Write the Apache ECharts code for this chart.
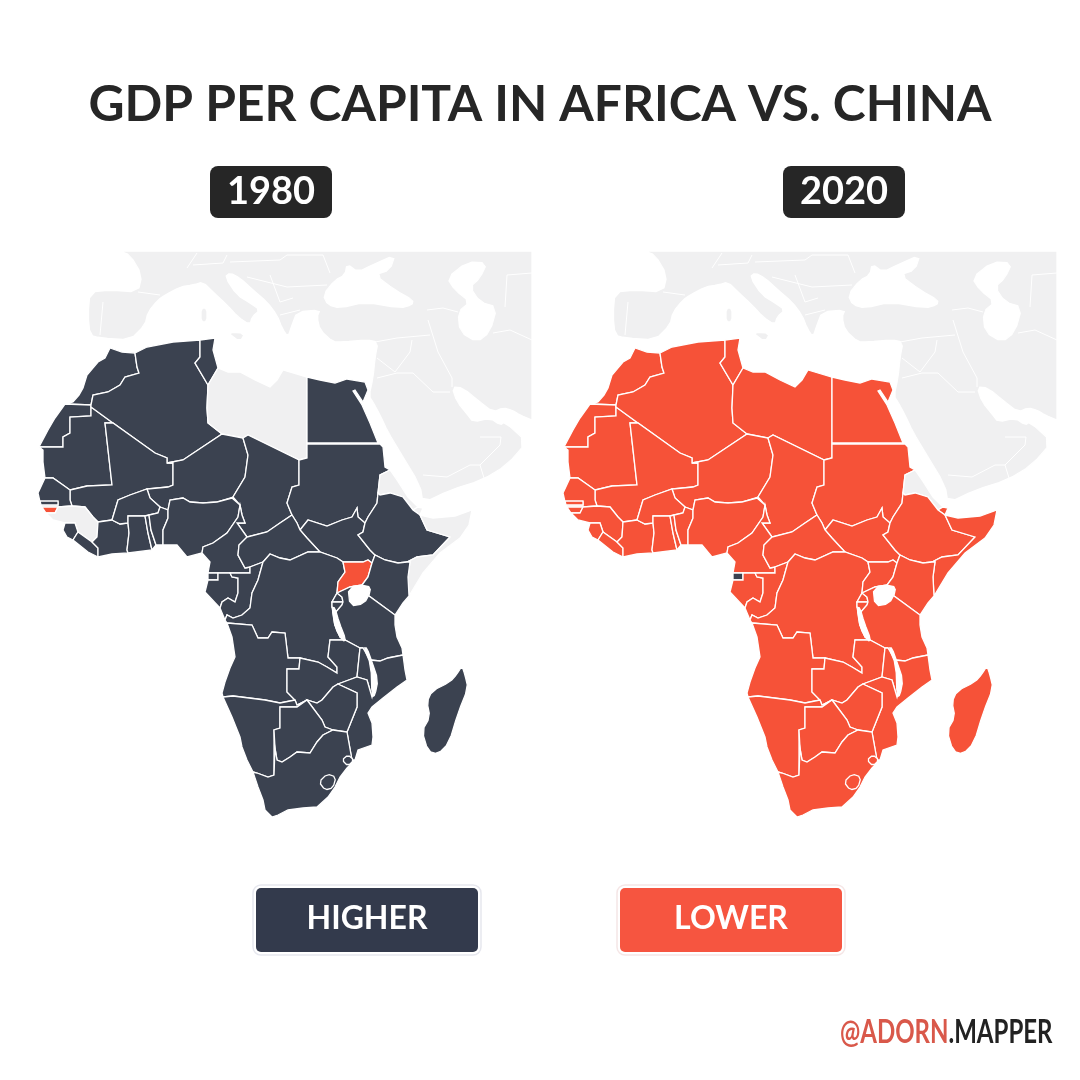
<!DOCTYPE html>
<html>
<head>
<meta charset="utf-8">
<title>GDP per capita in Africa vs. China</title>
<style>
    html, body { margin: 0; padding: 0; background: #fff; }
    #main { width: 1080px; height: 1080px; }
</style>
<script src="https://cdn.jsdelivr.net/npm/echarts@6/dist/echarts.min.js"></script>
</head>
<body>
<div id="main"></div>
<script type="text/javascript">
// chart values: 1 = higher than China, 0 = lower, null = no data (same order as countries)
var countries = [
    'Morocco', 'Western Sahara', 'Mauritania', 'Algeria', 'Tunisia', 'Libya', 'Egypt', 'Mali', 'Niger', 'Chad',
    'Sudan', 'South Sudan', 'Eritrea', 'Djibouti', 'Ethiopia', 'Somalia', 'Senegal', 'Gambia', 'Guinea-Bissau', 'Guinea',
    'Sierra Leone', 'Liberia', 'Ivory Coast', 'Burkina Faso', 'Ghana', 'Togo', 'Benin', 'Nigeria', 'Cameroon', 'Central African Republic',
    'Equatorial Guinea', 'Gabon', 'Congo', 'DR Congo', 'Uganda', 'Kenya', 'Rwanda', 'Burundi', 'Tanzania', 'Angola',
    'Zambia', 'Malawi', 'Mozambique', 'Zimbabwe', 'Namibia', 'Botswana', 'South Africa', 'Lesotho', 'Eswatini', 'Madagascar'
];
var values1980 = [
    1, 1, 1, 1, 1, null, 1, 1, 1, 1,
    1, 1, null, null, 1, null, 1, 1, 0, null,
    1, 1, 1, 1, 1, 1, 1, 1, 1, 1,
    1, 1, 1, 1, 0, 1, 1, 1, 1, 1,
    1, 1, 1, 1, 1, 1, 1, 1, 1, 1
];
var values2020 = [
    0, 0, 0, 0, 0, 0, 0, 0, 0, 0,
    0, 0, null, 0, 0, 0, 0, 0, 0, 0,
    0, 0, 0, 0, 0, 0, 0, 0, 0, 0,
    1, 0, 0, 0, 0, 0, 0, 0, 0, 0,
    0, 0, 0, 0, 0, 0, 0, 0, 0, 0
];
var years = ['1980', '2020'];
var legendLabels = ['HIGHER', 'LOWER'];
var chartTitle = 'GDP PER CAPITA IN AFRICA VS. CHINA';

var DARK = '#3b4250', RED = '#f65238', GREY = '#f0f0f1';

// outlines, x right / y down on a 1080 square
var shapes = {
    'Morocco': [[110,348],[122,352],[135,353],[137,367],[139,373],[125,377],[120,385],[108,392],[93,395],[91,405],[65,404],[73,402],[79,395],[83,388],[87,375],[98,362],[105,358]],
    'Western Sahara': [[65,404],[91,405],[91,416],[70,417],[70,433],[63,437],[63,447],[39,447],[48,430],[55,418]],
    'Mauritania': [[39,447],[63,447],[63,437],[70,433],[70,417],[91,416],[91,407],[113,423],[105,423],[112,485],[87,486],[70,490],[63,485],[53,478],[45,478],[43,462],[43,450]],
    'Algeria': [[135,353],[147,347],[173,342],[200,340],[200,357],[195,363],[208,385],[207,408],[208,423],[222,434],[183,460],[167,463],[167,458],[155,453],[113,423],[91,407],[91,405],[93,395],[108,392],[120,385],[125,377],[139,373],[137,367]],
    'Tunisia': [[200,340],[215,338],[213,350],[218,368],[208,385],[195,363],[200,357]],
    'Libya': [[218,368],[228,372],[240,372],[255,380],[270,387],[277,380],[283,370],[293,373],[307,377],[307,458],[299,460],[248,435],[243,438],[222,434],[208,423],[207,408],[208,385]],
    'Egypt': [[307,377],[320,380],[335,383],[347,379],[365,382],[368,390],[363,402],[355,390],[353,391],[362,405],[370,423],[378,443],[307,443]],
    'Mali': [[105,423],[113,423],[155,453],[167,458],[167,463],[173,463],[173,485],[168,487],[147,489],[130,495],[118,500],[112,520],[98,522],[93,517],[85,507],[72,506],[70,500],[70,490],[87,486],[112,485]],
    'Niger': [[222,434],[243,438],[248,455],[245,477],[233,497],[232,498],[217,502],[203,503],[190,502],[183,498],[170,500],[168,510],[160,507],[150,498],[147,489],[168,487],[173,485],[173,463],[167,463],[183,460]],
    'Chad': [[243,438],[248,435],[299,460],[299,485],[292,487],[287,503],[292,515],[280,523],[267,532],[247,537],[237,523],[245,523],[242,515],[240,505],[233,497],[245,477],[248,455]],
    'Sudan': [[299,460],[307,458],[307,444],[380,444],[383,447],[385,467],[390,470],[380,475],[378,493],[377,503],[368,517],[365,523],[358,517],[357,508],[352,517],[342,520],[327,526],[308,520],[300,530],[297,523],[292,515],[287,503],[292,487],[299,485]],
    'South Sudan': [[300,530],[308,520],[327,526],[342,520],[352,517],[357,508],[358,517],[365,523],[363,532],[358,535],[370,550],[375,555],[372,563],[368,560],[363,562],[343,562],[337,558],[320,552],[307,538]],
    'Eritrea': [[390,470],[397,480],[408,497],[418,507],[413,510],[403,497],[390,493],[380,495],[378,493],[380,475]],
    'Djibouti': [[413,510],[418,507],[423,508],[420,515]],
    'Ethiopia': [[378,493],[380,495],[390,493],[403,497],[413,510],[420,515],[427,530],[450,537],[433,555],[417,557],[407,562],[398,563],[385,560],[375,555],[370,550],[358,535],[363,532],[365,523],[368,517],[377,503]],
    'Somalia': [[420,515],[433,518],[455,516],[472,510],[469,525],[460,538],[440,553],[423,573],[409,596],[408,577],[410,562],[407,562],[417,557],[433,555],[450,537],[427,530]],
    'Senegal': [[45,478],[53,478],[63,485],[70,490],[70,500],[72,506],[58,507],[42,507],[41,505],[58,505],[58,502],[40,502],[38,493]],
    'Gambia': [[40,501],[58,501],[58,505],[41,505]],
    'Guinea-Bissau': [[42,507],[58,507],[55,513],[46,513]],
    'Guinea': [[58,507],[72,506],[85,507],[93,517],[98,522],[97,537],[92,542],[85,537],[78,532],[75,523],[65,523],[53,520],[46,513],[55,513]],
    'Sierra Leone': [[65,523],[75,523],[78,532],[73,540],[67,537],[63,530]],
    'Liberia': [[78,532],[85,537],[92,542],[98,548],[98,557],[88,552],[73,540]],
    'Ivory Coast': [[98,522],[112,520],[120,524],[128,523],[129,533],[127,550],[128,553],[112,554],[98,557],[98,548],[92,542],[97,537]],
    'Burkina Faso': [[147,489],[150,498],[160,507],[158,513],[149,515],[145,516],[128,516],[128,523],[120,524],[112,520],[118,500],[130,495]],
    'Ghana': [[128,516],[145,516],[148,533],[152,550],[128,553],[127,550],[129,533],[128,523]],
    'Togo': [[145,516],[149,515],[151,530],[156,545],[152,550],[148,533]],
    'Benin': [[160,507],[168,510],[168,518],[163,530],[163,545],[156,545],[151,530],[149,515],[158,513]],
    'Nigeria': [[168,510],[170,500],[183,498],[190,502],[203,503],[217,502],[232,498],[240,505],[238,517],[227,533],[213,543],[203,547],[202,553],[187,557],[177,545],[163,545],[163,530],[168,518]],
    'Cameroon': [[240,505],[242,515],[245,523],[237,523],[247,537],[239,545],[238,555],[245,568],[250,567],[250,573],[230,573],[218,573],[208,573],[210,562],[202,553],[203,547],[213,543],[227,533],[238,517]],
    'Central African Republic': [[292,515],[297,523],[300,530],[307,538],[320,552],[308,552],[290,560],[280,558],[270,554],[263,562],[250,567],[245,568],[238,555],[239,545],[247,537],[267,532],[280,523]],
    'Equatorial Guinea': [[208,573],[218,573],[218,580],[208,580]],
    'Gabon': [[218,573],[230,573],[232,577],[238,578],[238,593],[235,602],[228,598],[222,602],[220,608],[205,592],[208,580],[218,580]],
    'Congo': [[230,573],[250,573],[250,567],[263,562],[258,580],[252,593],[250,608],[242,615],[233,618],[227,615],[225,620],[220,608],[222,602],[228,598],[235,602],[238,593],[238,578],[232,577]],
    'DR Congo': [[263,562],[270,554],[280,558],[290,560],[308,552],[320,552],[337,558],[343,562],[345,572],[338,582],[337,593],[332,602],[332,607],[335,625],[340,637],[345,640],[330,640],[328,657],[337,667],[337,673],[327,667],[318,662],[300,658],[288,658],[285,633],[272,632],[268,638],[258,638],[252,625],[227,623],[225,620],[227,615],[233,618],[242,615],[250,608],[252,593],[258,580]],
    'Uganda': [[343,562],[363,562],[368,560],[372,563],[368,577],[362,585],[350,587],[337,593],[338,582],[345,572]],
    'Kenya': [[372,563],[375,555],[385,560],[398,563],[407,562],[410,562],[408,577],[409,596],[410,597],[403,603],[395,615],[365,593],[362,585],[368,577]],
    'Rwanda': [[332,602],[337,593],[342,597],[343,602]],
    'Burundi': [[332,602],[343,602],[342,605],[335,613],[332,607]],
    'Tanzania': [[337,593],[350,587],[362,585],[365,593],[395,615],[395,625],[397,637],[402,648],[403,655],[388,658],[380,661],[370,660],[363,648],[360,648],[345,640],[340,637],[335,625],[335,613],[342,605],[343,602],[342,597]],
    'Angola': [[227,623],[252,625],[258,638],[268,638],[272,632],[285,633],[288,658],[300,658],[299,669],[287,669],[287,692],[295,700],[280,703],[265,700],[233,696],[223,697],[222,693],[225,682],[230,668],[235,657],[232,637]],
    'Zambia': [[300,658],[318,662],[327,667],[337,673],[337,667],[328,657],[330,640],[345,640],[360,648],[357,677],[338,684],[333,687],[322,700],[317,703],[307,700],[297,705],[295,700],[287,692],[287,669],[299,669]],
    'Malawi': [[363,648],[370,660],[375,683],[372,697],[367,680],[357,677],[360,648]],
    'Mozambique': [[370,660],[380,661],[388,658],[403,655],[405,670],[407,680],[397,687],[383,698],[372,707],[368,713],[372,723],[373,737],[372,745],[358,750],[355,760],[352,760],[347,732],[357,707],[357,693],[340,685],[338,684],[357,677],[367,680],[372,697],[375,683]],
    'Zimbabwe': [[340,685],[357,693],[357,707],[347,732],[333,730],[325,727],[322,720],[307,700],[317,703],[322,700],[333,687],[338,684]],
    'Namibia': [[223,697],[233,696],[265,700],[280,703],[295,700],[297,705],[307,700],[297,707],[280,707],[280,728],[274,730],[274,775],[268,777],[257,773],[253,772],[247,760],[242,747],[240,737],[232,717]],
    'Botswana': [[280,707],[297,707],[307,700],[322,720],[325,727],[333,730],[323,735],[317,742],[310,753],[297,752],[290,757],[282,762],[277,760],[275,748],[274,730],[280,728]],
    'South Africa': [[253,772],[257,773],[268,777],[274,775],[275,748],[277,760],[282,762],[290,757],[297,752],[310,753],[317,742],[323,735],[333,730],[347,732],[352,760],[352,763],[347,768],[340,777],[335,787],[328,797],[317,807],[303,808],[288,810],[278,815],[272,817],[265,810],[263,800],[258,787]]
};

// standalone pieces: nothing shares their edges, so they can be rounded off
var islands = {
    'Eurasia': [[120,251],[532,251],[532,420],[520,415],[512,410],[503,408],[493,412],[480,402],[463,388],[452,387],[457,402],[468,415],[473,422],[490,418],[500,425],[505,422],[527,442],[507,465],[482,480],[450,490],[423,503],[420,485],[400,452],[388,432],[380,415],[373,402],[369,396],[373,378],[375,358],[378,342],[367,340],[343,342],[333,342],[320,330],[317,317],[320,310],[297,312],[292,325],[288,337],[282,328],[277,315],[267,302],[253,290],[240,278],[230,273],[225,277],[237,295],[250,303],[260,310],[252,317],[250,325],[238,317],[227,305],[213,292],[203,282],[193,285],[180,287],[165,295],[158,300],[148,312],[145,325],[130,340],[100,338],[90,335],[88,315],[90,292],[110,290],[138,292],[142,275],[130,255]],
    'Sardinia': [[201,308],[207,308],[207,322],[201,322]],
    'Sicily': [[227,332],[245,333],[240,342]],
    'Lesotho': [[319,782],[327,774],[336,777],[333,788],[325,790]],
    'Eswatini': [[342,760],[348,755],[354,760],[348,766]],
    'Madagascar': [[462,666],[465,675],[468,688],[458,713],[449,743],[438,754],[428,751],[422,731],[430,717],[427,702],[432,691],[450,682],[457,674]],
    'Lake Victoria': [[348,587],[368,585],[371,591],[364,604],[350,606]],
    'Lake Tanganyika': [[332,607],[335,608],[339,622],[346,640],[343,641],[335,628]],
    'Lake Malawi': [[364,648],[367,648],[372,662],[378,680],[375,695],[372,697],[371,665]],
    'Black Sea': [[323,295],[335,280],[345,275],[347,264],[358,272],[372,265],[395,255],[390,270],[375,275],[395,290],[413,300],[412,305],[400,308],[365,302],[340,308],[328,305]],
    'Caspian Sea': [[447,278],[467,262],[487,263],[480,278],[470,287],[480,302],[497,307],[490,332],[477,342],[460,332],[458,312],[470,302],[455,290]]
};
var water = ['Lake Victoria', 'Lake Tanganyika', 'Lake Malawi', 'Black Sea', 'Caspian Sea'];

// white borders across the grey background land
var bgBorders = [
    [[375,342],[397,338],[430,335]],
    [[428,320],[438,352],[452,378],[452,387]],
    [[377,378],[397,373],[413,373],[433,392],[450,392]],
    [[395,372],[410,352],[412,340]],
    [[377,358],[395,372]],
    [[532,340],[510,330],[493,333]],
    [[505,307],[507,275],[532,273]],
    [[423,475],[447,477],[470,465],[480,465],[500,445],[501,437],[480,437]],
    [[480,465],[484,478]],
    [[427,310],[443,308],[458,312]],
    [[197,253],[187,268]],
    [[193,265],[223,263],[227,255]],
    [[230,262],[280,260],[287,255],[323,255],[330,273]],
    [[247,277],[287,287],[327,285]],
    [[270,275],[280,302],[293,298]],
    [[280,315],[300,310]],
    [[138,292],[160,295]],
    [[103,302],[100,335]]
];

function flip(pts) {
    return pts.map(function (p) { return [p[0], -p[1]]; });
}

// corner cutting, points on the crop edge stay put
function rounded(pts) {
    var out = [];
    pts.forEach(function (p, i) {
        var next = pts[(i + 1) % pts.length];
        if (p[0] >= 532 || p[1] <= 251) {
            out.push(p);
        }
        if ((p[0] >= 532 && next[0] >= 532) || (p[1] <= 251 && next[1] <= 251)) {
            return;
        }
        out.push([p[0] * 0.75 + next[0] * 0.25, p[1] * 0.75 + next[1] * 0.25]);
        out.push([p[0] * 0.25 + next[0] * 0.75, p[1] * 0.25 + next[1] * 0.75]);
    });
    return out;
}

function toFeature(name, pts) {
    return {
        type: 'Feature',
        properties: { name: name },
        geometry: { type: 'Polygon', coordinates: [flip(pts.concat([pts[0]]))] }
    };
}

var features = [];
// background land goes first so Africa and the seas sit on top of it
features.push(toFeature('Eurasia', rounded(islands['Eurasia'])));
Object.keys(shapes).forEach(function (name) {
    features.push(toFeature(name, shapes[name]));
});
Object.keys(islands).forEach(function (name) {
    if (name !== 'Eurasia') {
        features.push(toFeature(name, rounded(islands[name])));
    }
});
echarts.registerMap('africa', { type: 'FeatureCollection', features: features });

var waterRegions = water.map(function (name) {
    return { name: name, itemStyle: { areaColor: '#fff', borderColor: '#fff' } };
});

function makeGeo(left) {
    return {
        map: 'africa',
        left: left,
        top: 0,
        width: 1080,
        height: 1080,
        aspectScale: 1,
        boundingCoords: [[0, 0], [1080, -1080]],
        roam: false,
        silent: true,
        label: { show: false },
        itemStyle: { areaColor: GREY, borderColor: '#fff', borderWidth: 1.3 },
        regions: waterRegions
    };
}

function makeData(values) {
    return countries.map(function (name, i) {
        return { name: name, value: values[i] };
    });
}

function makeBorders(geoIndex) {
    return {
        type: 'lines',
        coordinateSystem: 'geo',
        geoIndex: geoIndex,
        polyline: true,
        silent: true,
        lineStyle: { color: '#fff', width: 1, opacity: 1 },
        data: bgBorders.map(function (line) { return { coords: flip(line) }; })
    };
}

function yearBadge(cx, label) {
    return [
        { type: 'rect', shape: { x: cx - 61, y: 166, width: 122, height: 52, r: 8 }, style: { fill: '#262626' } },
        { type: 'text', x: cx, y: 192, style: { text: label, fill: '#fff', font: 'bold 38px Lato', align: 'center', verticalAlign: 'middle' } }
    ];
}

function legendBox(x, color, edge, label) {
    return [
        { type: 'rect', shape: { x: x - 3, y: 885, width: 228, height: 70, r: 8 }, style: { fill: '#fff', stroke: edge, lineWidth: 1.5 } },
        { type: 'rect', shape: { x: x, y: 888, width: 222, height: 64, r: 5 }, style: { fill: color } },
        { type: 'text', x: x + 111, y: 919, style: { text: label, fill: '#fff', font: 'bold 32px Lato', align: 'center', verticalAlign: 'middle' } }
    ];
}

var myChart = echarts.init(document.getElementById('main'));

var option = {
    animation: false,
    backgroundColor: '#fff',
    geo: [makeGeo(0), makeGeo(525)],
    visualMap: {
        show: false,
        type: 'piecewise',
        seriesIndex: [0, 1],
        pieces: [
            { value: 1, color: DARK },
            { value: 0, color: RED }
        ]
    },
    series: [
        { type: 'map', geoIndex: 0, data: makeData(values1980) },
        { type: 'map', geoIndex: 1, data: makeData(values2020) },
        makeBorders(0),
        makeBorders(1)
    ],
    graphic: {
        elements: [
            { type: 'text', x: 540, y: 105, style: { text: chartTitle, fill: '#262626', font: 'bold 49.7px Lato', align: 'center', verticalAlign: 'middle' } }
        ].concat(
            yearBadge(271, years[0]),
            yearBadge(844, years[1]),
            legendBox(256, '#333a4c', '#e6e7ee', legendLabels[0]),
            legendBox(620, '#f65540', '#f5e6e6', legendLabels[1]),
            [{
                type: 'text', x: 840, y: 1033, scaleX: 0.75,
                style: {
                    text: '{a|@ADORN}{b|.MAPPER}',
                    verticalAlign: 'middle',
                    rich: {
                        a: { fill: '#d9584a', font: 'bold 32px Lato' },
                        b: { fill: '#222', font: 'bold 32px Lato' }
                    }
                }
            }]
        )
    }
};

myChart.setOption(option);
</script>
</body>
</html>
